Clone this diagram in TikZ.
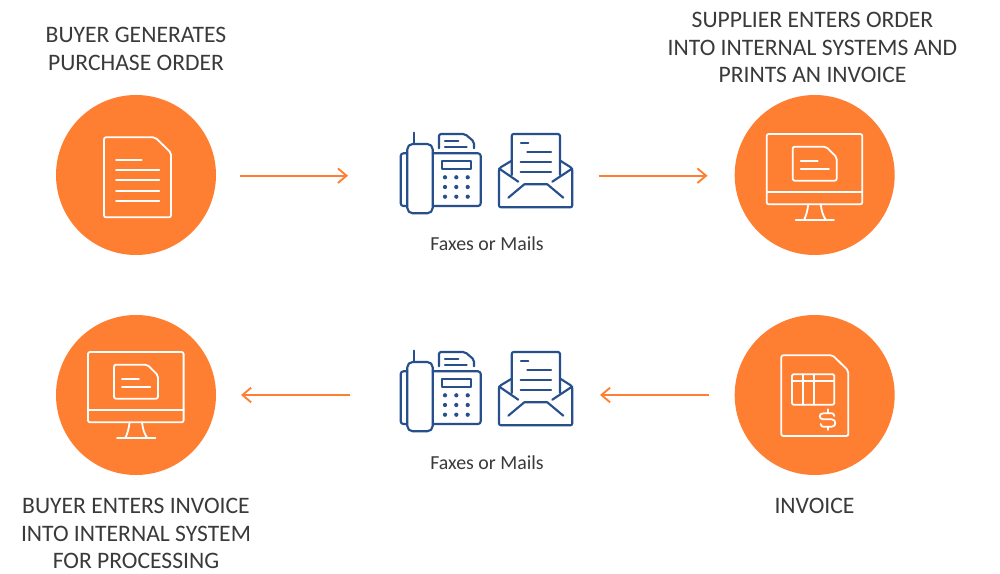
\documentclass[tikz,border=0pt]{standalone}
\usepackage{fontspec}
\setmainfont{Carlito}
\usetikzlibrary{arrows.meta}
\definecolor{flowor}{HTML}{FF7F32}
\definecolor{iconblue}{HTML}{264F8C}
\definecolor{txtgrey}{HTML}{3A3A3A}
\tikzset{
  disc/.style={circle,fill=flowor,draw=none,minimum size=120pt,inner sep=0pt},
  wline/.style={draw=white,line width=1.35pt,line join=round,line cap=round},
  bline/.style={draw=iconblue,line width=1.6pt,line join=round,line cap=round},
  flow/.style={draw=flowor,line width=1.4pt,-{Straight Barb[length=6.5pt,width=11pt,line width=1.4pt]}},
  caption/.style={text=txtgrey,font=\fontsize{17.7pt}{20.9pt}\selectfont,align=center,inner sep=0pt},
  small/.style={text=txtgrey,font=\fontsize{14.9pt}{17pt}\selectfont,inner sep=0pt}
}
\newcommand{\faxmail}{%
  \draw[bline,rounded corners=4pt] (407.3,144) rectangle (432.7,213.3);
  \draw[bline] (414.3,132.7) -- (414.3,144);
  \draw[bline,rounded corners=2pt] (407.3,153.3) -- (400.7,153.3) -- (400.7,206) -- (407.3,206);
  \draw[bline,rounded corners=2pt] (432.7,153.3) -- (480.7,153.3) -- (480.7,206) -- (432.7,206);
  \draw[bline,rounded corners=1.5pt] (439,148.3) -- (439,134) -- (465,134) -- (474,141.7) -- (474,148.3);
  \draw[bline] (445,140.7) -- (458.3,140.7) (445,147.3) -- (466.7,147.3);
  \draw[bline] (442.3,161) rectangle (470.7,168.7);
  \foreach \xx in {445,456.3,467.7}\foreach \yy in {177.3,187,196.7}{\fill[iconblue] (\xx,\yy) circle (1.6pt);}
  \draw[bline,rounded corners=1.5pt] (511.7,175) -- (511.7,134) -- (560,134) -- (560,175);
  \draw[bline] (521,142.7) -- (528.3,142.7) (527.3,152.3) -- (551,152.3) (520.7,162) -- (551,162) (520.7,171.7) -- (551,171.7);
  \draw[bline,rounded corners=1.5pt] (511.7,160.7) -- (499,168.3) -- (499,207.3) -- (572.3,207.3) -- (572.3,168.3) -- (560.3,160.7);
  \draw[bline] (499,168.5) -- (518.3,181.7) (572.3,168.5) -- (552.3,181.7);
  \draw[bline] (508.3,197.7) -- (524.3,184.3) -- (547.3,184.3) -- (563.3,197.7);
}
\newcommand{\monitoricon}{%
  \draw[wline,rounded corners=1.5pt] (766.7,134) rectangle (862.3,204.3);
  \draw[wline] (766.7,192.3) -- (862.3,192.3);
  \draw[wline] (808.3,204.3) .. controls (807.5,211) and (806,216) .. (804,220);
  \draw[wline] (820.7,204.3) .. controls (821.5,211) and (823,216) .. (826,220);
  \draw[wline] (795.7,220.3) -- (834,220.3);
  \draw[wline,rounded corners=1.5pt] (792.7,146.7) -- (826,146.7) -- (836.7,157.3) -- (836.7,180.7) -- (792.7,180.7) -- cycle;
  \draw[wline] (800.7,161.3) -- (817.7,161.3) (800.7,168.7) -- (829,168.7);
}
\begin{document}
\begin{tikzpicture}[x=0.75pt,y=-0.75pt]
\useasboundingbox (0,0) rectangle (1000,574);
\fill[white] (0,0) rectangle (1000,574);
% discs
\node[disc] (buyer) at (136,175) {};
\node[disc] (supplier) at (814.7,175) {};
\node[disc] (entry) at (136,395) {};
\node[disc] (invoice) at (814.7,395) {};
% doc icon
\draw[wline,rounded corners=1.5pt] (104,137.3) -- (155,137.3) -- (171,152.7) -- (171,217.3) -- (104,217.3) -- cycle;
\draw[wline] (116,159.7) -- (141.7,159.7) (116,170) -- (159.3,170) (116,180.3) -- (159.3,180.3) (116,190.7) -- (159.3,190.7) (116,201.3) -- (159.3,201.3);
% monitors
\monitoricon
\begin{scope}[shift={(-678.7,218)}]\monitoricon\end{scope}
% invoice icon
\draw[wline,rounded corners=1.5pt] (781.3,355.3) -- (832.7,355.3) -- (848.3,370.7) -- (848.3,436) -- (781.3,436) -- cycle;
\draw[wline,rounded corners=1pt] (792,374.3) rectangle (834.3,404.7);
\draw[wline] (792,381.3) -- (834.3,381.3) (803.3,374.3) -- (803.3,404.7) (814.3,374.3) -- (814.3,404.7);
\draw[wline] (834.3,416) .. controls (834,414) and (833,413.3) .. (831.7,413.3) -- (823.3,413.3) .. controls (818.5,413.3) and (818.5,419.3) .. (823.3,419.3) -- (831.7,419.3) .. controls (836.5,419.3) and (836.5,426.7) .. (831.7,426.7) -- (823.3,426.7) .. controls (822,426.7) and (821,426) .. (820.7,424);
\draw[wline] (827.7,409.3) -- (827.7,413.3) (827.7,426.7) -- (827.7,430);
% fax and mail
\faxmail
\begin{scope}[shift={(0,218)}]\faxmail\end{scope}
% arrows
\coordinate (a1s) at (239.5,175.7); \coordinate (a1e) at (348,175.7);
\coordinate (a2s) at (598.5,175.7); \coordinate (a2e) at (707.5,175.7);
\coordinate (a3s) at (708.5,395); \coordinate (a3e) at (600,395);
\coordinate (a4s) at (350,395); \coordinate (a4e) at (241,395);
\draw[flow] (a1s) -- (a1e);
\draw[flow] (a2s) -- (a2e);
\draw[flow] (a3s) -- (a3e);
\draw[flow] (a4s) -- (a4e);
% texts
\node[caption] (t1) at (136,48.5) {BUYER GENERATES\\PURCHASE ORDER};
\node[caption] (t2) at (812.5,47.5) {SUPPLIER ENTERS ORDER\\INTO INTERNAL SYSTEMS AND\\PRINTS AN INVOICE};
\node[caption] (t3) at (136,533.5) {BUYER ENTERS INVOICE\\INTO INTERNAL SYSTEM\\FOR PROCESSING};
\node[caption] (t4) at (814.5,505.5) {INVOICE};
\node[small] (f1) at (487,243.5) {Faxes or Mails};
\node[small] (f2) at (487,462.5) {Faxes or Mails};
\end{tikzpicture}
\end{document}
